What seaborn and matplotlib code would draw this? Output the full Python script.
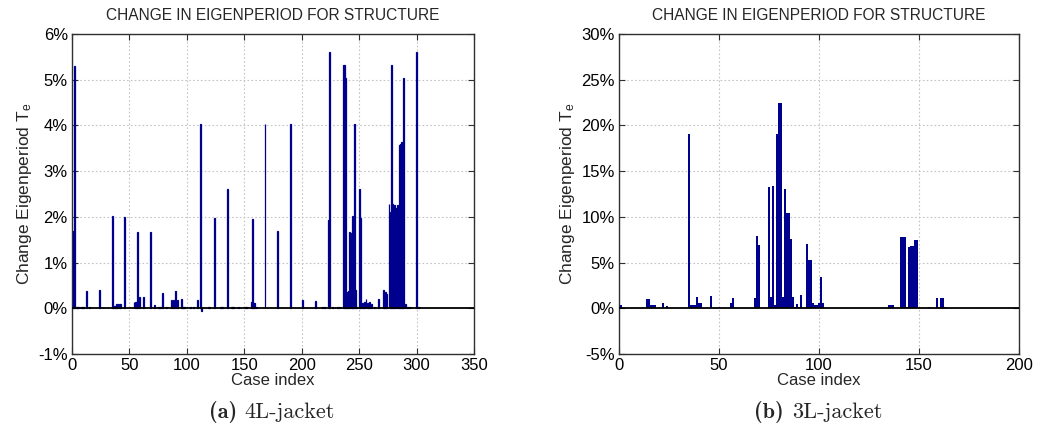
import matplotlib
matplotlib.use("Agg")
import matplotlib.pyplot as plt
import seaborn as sns
from matplotlib.ticker import FuncFormatter, MultipleLocator

# Relative change of the eigenperiod (in %) per load case, 4-leg jacket
cases_4L = [1, 2, 4, 5, 6, 7, 8, 9, 10, 13, 15, 24, 27, 35, 36, 37, 38, 39, 40, 41, 42,
            46, 54, 55, 56, 57, 59, 62, 68, 72, 74, 75, 76, 77, 79, 82, 87, 88, 90, 92,
            95, 96, 97, 98, 103, 106, 109, 112, 113, 119, 120, 124, 129, 130, 131, 135,
            139, 140, 141, 145, 151, 152, 156, 157, 158, 159, 161, 168, 179, 190, 201,
            212, 218, 220, 223, 224, 227, 229, 231, 233, 236, 237, 238, 239, 240, 241,
            242, 243, 244, 245, 246, 247, 248, 250, 251, 253, 254, 255, 256, 257, 258,
            259, 261, 263, 267, 271, 272, 273, 274, 276, 277, 278, 279, 280, 281, 282,
            283, 284, 285, 286, 287, 288, 289, 290, 292, 294, 296, 300, 302, 303]
change_4L = [1.70, 5.30, 0.02, 0.02, 0.02, 0.02, 0.02, 0.02, 0.02, 0.37, 0.03, 0.41, 0.02,
             2.01, 0.04, 0.04, 0.04, 0.10, 0.10, 0.10, 0.10,
             2.00, 0.14, 0.14, 0.14, 1.67, 0.24, 0.24, 1.66, 0.07, 0.02, 0.02, 0.02, 0.02,
             0.33, 0.03, 0.19, 0.19, 0.37, 0.19,
             0.21, 0.02, 0.02, 0.02, 0.02, 0.02, 0.19, 4.04, -0.05, 0.02, 0.02, 1.98, 0.02,
             0.02, 0.02, 2.60,
             0.02, 0.02, 0.02, 0.02, 0.02, 0.02, 0.14, 1.96, 0.12, 0.12, 0.02, 4.04, 1.70,
             4.04, 0.19,
             0.17, 0.02, 0.02, 1.94, 5.61, 0.02, 0.02, 0.02, 0.02, 5.32, 5.32, 5.03, 0.35,
             0.33, 0.37,
             1.67, 1.65, 2.01, 2.00, 4.04, 0.40, 0.02, 2.62, 1.98, 0.12, 0.10, 0.13, 0.20,
             0.12, 0.12,
             0.14, 0.10, 0.02, 0.20, 0.40, 0.34, 0.36, 0.31, 2.28, 2.10, 5.32, 2.28, 2.10,
             2.26, 2.19,
             2.26, 2.19, 3.58, 3.60, 3.64, 3.64, 5.03, 0.10, 0.02, 0.02, 0.02, 5.61, 0.02,
             0.02]

# Relative change of the eigenperiod (in %) per load case, 3-leg jacket
cases_3L = [1, 10, 11, 12, 13, 14, 15, 16, 17, 18, 22, 24, 35, 36, 37, 38, 39, 40, 41, 46,
            56, 57, 68, 69, 70, 75, 76, 77, 78, 79, 80, 81, 82, 83, 84, 85, 86, 87, 88,
            89, 90, 91, 92, 93, 94, 95, 96, 97, 98, 99, 100, 101, 102, 135, 136, 137,
            141, 142, 143, 144, 145, 146, 147, 148, 149, 155, 159, 160, 161, 162, 163]
change_3L = [0.35, 0.05, 0.05, 0.05, 0.05, 1.05, 1.05, 0.40, 0.40, 0.40, 0.60, 0.25, 19.1,
             0.40, 0.40, 0.40, 1.20, 0.60, 0.60, 1.35,
             0.60, 1.15, 1.10, 7.90, 6.90, 13.3, 1.20, 13.4, 0.35, 19.1, 22.5, 22.4, 1.20,
             13.0, 10.4, 10.4, 7.60, 1.20, 0.15,
             0.45, 0.10, 1.40, 0.05, 0.05, 7.00, 5.30, 5.25, 0.55, 0.40, 0.40, 0.55, 3.40,
             0.55, 0.40, 0.40, 0.40,
             7.80, 7.75, 7.75, 0.15, 6.70, 6.80, 6.80, 7.50, 7.50, 0.10, 1.17, 0.05, 1.17,
             1.17, 0.10]

TITLE = "CHANGE IN EIGENPERIOD FOR STRUCTURE"
BAR = "#00008F"

sns.set_theme(style="white")
plt.rcParams["font.family"] = ["Liberation Sans", "DejaVu Sans"]
plt.rcParams["mathtext.default"] = "regular"
plt.rcParams["axes.unicode_minus"] = False

W, H = 1042, 434
fig = plt.figure(figsize=(W / 100, H / 100), dpi=100)
ax1 = fig.add_axes([72 / W, 80 / H, 402 / W, 320 / H])
ax2 = fig.add_axes([619 / W, 80 / H, 400 / W, 320 / H])


def draw(ax, cases, change, xmax, ylo, yhi, ystep, width, edge_lw):
    sns.barplot(x=cases, y=change, native_scale=True, orient="x", width=width,
                color=BAR, saturation=1, errorbar=None, linewidth=edge_lw,
                edgecolor=BAR, ax=ax, zorder=3)
    ax.axhline(0, color="black", lw=1.3, zorder=4)
    ax.set_xlim(0, xmax)
    ax.set_ylim(ylo, yhi)
    ax.xaxis.set_major_locator(MultipleLocator(50))
    ax.yaxis.set_major_locator(MultipleLocator(ystep))
    ax.yaxis.set_major_formatter(FuncFormatter(lambda v, p: f"{v:.0f}%"))
    ax.grid(True, color="#c4c4c4", linestyle=(0, (1.5, 2)), lw=0.8, zorder=0)
    ax.set_axisbelow(True)
    for s in ax.spines.values():
        s.set_color("#303030")
        s.set_linewidth(1.0)
    ax.tick_params(direction="in", length=4, width=0.8, top=True, right=True,
                   bottom=True, left=True, labelsize=12, pad=3, colors="#303030",
                   labelcolor="black")
    ax.set_title(TITLE, fontsize=11.2, pad=10)
    ax.set_xlabel("Case index", fontsize=12, labelpad=0)
    ax.set_ylabel("Change Eigenperiod T$_e$", fontsize=12.5, labelpad=3)


draw(ax1, cases_4L, change_4L, 350, -1, 6, 1, 0.8, 0.9)
draw(ax2, cases_3L, change_3L, 200, -5, 30, 5, 0.65, 0.0)

# Sub-figure captions
for xb, xt, lab, name in [(237, 244, "(a)", "4L-jacket"), (784, 792, "(b)", "3L-jacket")]:
    fig.text(xb / W, 1 - 412 / H, lab, family="cmb10", fontsize=16, ha="right", va="center")
    fig.text(xt / W, 1 - 412 / H, name, family="cmr10", fontsize=16, ha="left", va="center")

fig.savefig("out.png", dpi=100)
